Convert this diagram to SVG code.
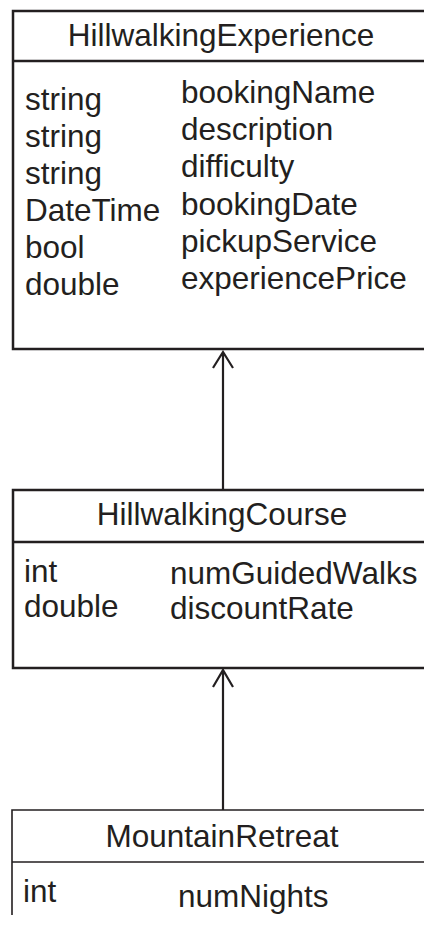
<svg xmlns="http://www.w3.org/2000/svg" width="424" height="926" viewBox="0 0 424 926">
<style>
text{font-family:"Liberation Sans",Arial,sans-serif;font-size:31.5px;fill:#231f20}
.t{text-anchor:middle}
.box{fill:none;stroke:#231f20;stroke-width:2.5}
.thin{fill:none;stroke:#231f20;stroke-width:1.6}
.conn{fill:none;stroke:#231f20;stroke-width:2.2}
</style>
<rect width="424" height="926" fill="#fff"/>
<g id="HillwalkingExperience">
<rect class="box" x="13" y="11" width="430" height="338"/>
<line class="box" x1="13" y1="61" x2="430" y2="61"/>
<text class="t" x="221" y="46">HillwalkingExperience</text>
<text x="25" y="110">string</text><text x="181" y="103">bookingName</text>
<text x="25" y="147">string</text><text x="181" y="140">description</text>
<text x="25" y="184">string</text><text x="181" y="177">difficulty</text>
<text x="25" y="221">DateTime</text><text x="181" y="215">bookingDate</text>
<text x="25" y="258">bool</text><text x="181" y="252">pickupService</text>
<text x="25" y="295">double</text><text x="181" y="289">experiencePrice</text>
</g>
<g id="HillwalkingCourse">
<rect class="box" x="13" y="490" width="430" height="178"/>
<line class="box" x1="13" y1="542" x2="430" y2="542"/>
<text class="t" x="222" y="525">HillwalkingCourse</text>
<text x="24" y="582">int</text><text x="170" y="584">numGuidedWalks</text>
<text x="24" y="617">double</text><text x="170" y="619">discountRate</text>
</g>
<g id="MountainRetreat">
<path class="thin" d="M12 915 V810 H430 M12 862 H430"/>
<text class="t" x="222" y="847">MountainRetreat</text>
<text x="23" y="902">int</text><text x="178" y="907">numNights</text>
</g>
<g id="connectors">
<path class="conn" d="M223 490 V352 M213 368 L223 352 L233 368"/>
<path class="conn" d="M223 810 V670 M213 687 L223 670 L233 687"/>
</g>
</svg>
